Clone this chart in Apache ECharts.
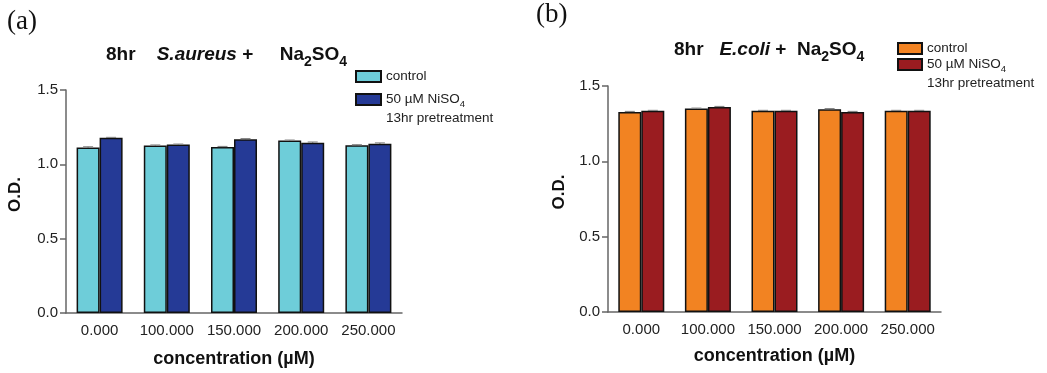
<!DOCTYPE html>
<html>
<head>
<meta charset="utf-8">
<script src="https://cdn.jsdelivr.net/npm/echarts@6/dist/echarts.min.js"></script>
<style>
  html, body { margin: 0; padding: 0; background: #fff; }
  #chart { width: 1047px; height: 373px; }
</style>
</head>
<body>
<div id="chart"></div>
<script>
// data
const categories = ['0.000', '100.000', '150.000', '200.000', '250.000'];
const yTicks = [0, 0.5, 1.0, 1.5];

const aureusControl = [1.114, 1.127, 1.116, 1.160, 1.129];
const aureusNi = [1.178, 1.133, 1.169, 1.145, 1.138];
const aureusControlErr = [0.004, 0.003, 0.004, 0.003, 0.003];
const aureusNiErr = [0.003, 0.003, 0.004, 0.005, 0.006];

const coliControl = [1.328, 1.350, 1.335, 1.346, 1.335];
const coliNi = [1.335, 1.361, 1.335, 1.328, 1.335];
const coliControlErr = [0.003, 0.003, 0.003, 0.004, 0.003];
const coliNiErr = [0.003, 0.003, 0.003, 0.003, 0.003];

const legendNames = ['control', '50 µM NiSO4\n13hr pretreatment'];

const colors = {
    aControl: '#6ecdd9',
    aNi: '#253a96',
    bControl: '#f28322',
    bNi: '#9a1c20'
};

const BAR_W = 23;
const FONT = 'Liberation Sans, Arial, sans-serif';
const LEG_LH = 19;

const chart = echarts.init(document.getElementById('chart'));

function errorSeries(name, gridIdx, values, errs, side) {
    return {
        type: 'custom',
        name: name,
        xAxisIndex: gridIdx,
        yAxisIndex: gridIdx,
        silent: true,
        z: 5,
        data: values.map((v, i) => [i, v, errs[i]]),
        renderItem(params, api) {
            const i = api.value(0);
            const v = api.value(1);
            const e = api.value(2);
            const top = api.coord([i, v + e]);
            const base = api.coord([i, v]);
            const x = top[0] + side * BAR_W / 2;
            return {
                type: 'group',
                children: [
                    { type: 'line', shape: { x1: x, y1: base[1], x2: x, y2: top[1] }, style: { stroke: '#333', lineWidth: 1.2 } },
                    { type: 'line', shape: { x1: x - 5, y1: top[1], x2: x + 5, y2: top[1] }, style: { stroke: '#888', lineWidth: 1.2 } }
                ]
            };
        }
    };
}

// blank first line keeps the swatch level with "50 µM NiSO4"
function legendFormatter(name) {
    if (name.indexOf('control') === 0) return '{t|control}';
    return '{t| }\n{t|50 µM NiSO}{s|4}\n{t|13hr pretreatment}';
}

const legendRich = {
    t: { fontSize: 13.5, fontFamily: FONT, color: '#222', lineHeight: LEG_LH },
    s: { fontSize: 9.5, fontFamily: FONT, color: '#222', lineHeight: LEG_LH, verticalAlign: 'bottom' }
};

function barSeries(name, gridIdx, values, color) {
    return {
        type: 'bar',
        name: name,
        xAxisIndex: gridIdx,
        yAxisIndex: gridIdx,
        data: values,
        barWidth: BAR_W,
        barGap: '0%',
        itemStyle: { color: color, borderColor: '#111', borderWidth: 1.5 }
    };
}

function xAxis(gridIdx, gap) {
    return {
        type: 'category',
        gridIndex: gridIdx,
        data: categories,
        axisTick: { show: false },
        axisLine: { lineStyle: { color: '#666', width: 1.5 } },
        axisLabel: { interval: 0, fontSize: 15, color: '#222', fontFamily: FONT, margin: 10 },
        name: 'concentration (µM)',
        nameLocation: 'middle',
        nameGap: gap,
        nameTextStyle: { fontSize: 18, fontWeight: 'bold', color: '#111', fontFamily: FONT }
    };
}

function yAxis(gridIdx, gap) {
    return {
        type: 'value',
        gridIndex: gridIdx,
        min: yTicks[0],
        max: yTicks[yTicks.length - 1],
        interval: 0.5,
        axisLine: { show: true, lineStyle: { color: '#666', width: 1.5 } },
        axisTick: { show: true, length: 6, lineStyle: { color: '#666', width: 1.5 } },
        splitLine: { show: false },
        axisLabel: { fontSize: 15, color: '#222', fontFamily: FONT, margin: 8, formatter: v => v.toFixed(1) },
        name: 'O.D.',
        nameLocation: 'middle',
        nameGap: gap,
        nameTextStyle: { fontSize: 17, fontWeight: 'bold', color: '#111', fontFamily: FONT, padding: [0, 0, 0, 14] }
    };
}

const titleRich = {
    b: { fontSize: 19, fontWeight: 'bold', fontFamily: FONT, color: '#111', lineHeight: 28 },
    i: { fontSize: 19, fontWeight: 'bold', fontStyle: 'italic', fontFamily: FONT, color: '#111', lineHeight: 28 },
    s: { fontSize: 14, fontWeight: 'bold', fontFamily: FONT, color: '#111', lineHeight: 28, verticalAlign: 'bottom' }
};

const labelStyle = { fontFamily: 'Liberation Serif, Times New Roman, serif', fontSize: 27, fontWeight: 'normal', color: '#111' };

let option = {
    animation: false,
    textStyle: { fontFamily: FONT },
    title: [
        { text: '(a)', left: 7, top: 8, padding: 0, textStyle: labelStyle },
        { text: '(b)', left: 536, top: 1, padding: 0, textStyle: labelStyle },
        {
            text: '{b|8hr    }{i|S.aureus}{b| +     Na}{s|2}{b|SO}{s|4}',
            left: 106, top: 41, padding: 0,
            textStyle: { rich: titleRich }
        },
        {
            text: '{b|8hr   }{i|E.coli}{b| +  Na}{s|2}{b|SO}{s|4}',
            left: 674, top: 36, padding: 0,
            textStyle: { rich: titleRich }
        }
    ],
    legend: [
        {
            data: ['control ', legendNames[1] + ' '],
            orient: 'vertical', left: 355, top: 69.5, padding: 0,
            icon: 'rect',
            itemWidth: 25, itemHeight: 11, itemGap: -10,
            selectedMode: false,
            formatter: legendFormatter,
            textStyle: { rich: legendRich }
        },
        {
            data: [legendNames[0], legendNames[1]],
            orient: 'vertical', left: 897, top: 38.5, padding: 0,
            icon: 'rect',
            itemWidth: 24, itemHeight: 11, itemGap: -17,
            selectedMode: false,
            formatter: legendFormatter,
            textStyle: { rich: legendRich }
        }
    ],
    grid: [
        { left: 66, top: 90, width: 336, height: 227 },
        { left: 608, top: 86, width: 333, height: 226 }
    ],
    xAxis: [xAxis(0, 37), xAxis(1, 35)],
    yAxis: [yAxis(0, 42), yAxis(1, 40)],
    series: [
        barSeries('control ', 0, aureusControl, colors.aControl),
        barSeries(legendNames[1] + ' ', 0, aureusNi, colors.aNi),
        barSeries(legendNames[0], 1, coliControl, colors.bControl),
        barSeries(legendNames[1], 1, coliNi, colors.bNi),
        errorSeries('errA1', 0, aureusControl, aureusControlErr, -1),
        errorSeries('errA2', 0, aureusNi, aureusNiErr, 1),
        errorSeries('errB1', 1, coliControl, coliControlErr, -1),
        errorSeries('errB2', 1, coliNi, coliNiErr, 1)
    ]
};

chart.setOption(option);
</script>
</body>
</html>
